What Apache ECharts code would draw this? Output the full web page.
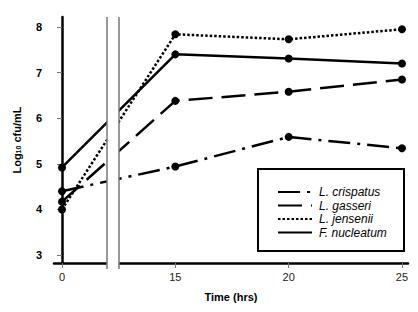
<!DOCTYPE html>
<html>
<head>
<meta charset="utf-8">
<script src="https://cdn.jsdelivr.net/npm/echarts@6/dist/echarts.min.js"></script>
<style>
  html, body { margin: 0; padding: 0; background: #fff; }
  #chart { width: 418px; height: 312px; }
</style>
</head>
<body>
<div id="chart"></div>
<script>
// time points (hrs) and log10 cfu/mL per organism
var hours = [0, 15, 20, 25];
var names = ['L. crispatus', 'L. gasseri', 'L. jensenii', 'F. nucleatum'];
var crispatus = [4.40, 4.94, 5.59, 5.34];
var gasseri = [4.17, 6.38, 6.58, 6.85];
var jensenii = [4.00, 7.84, 7.73, 7.95];
var nucleatum = [4.92, 7.40, 7.31, 7.20];
var yTicks = [3, 4, 5, 6, 7, 8];
var xTicks = [0, 15, 20, 25];

(function() {
  var font = 'Liberation Sans, Arial, sans-serif';

  // broken time axis: 0-15 h is squeezed into the width of 5 h
  function toAxis(h) { return h < 15 ? h / 3 : h - 10; }
  function fromAxis(v) { return v < 5 ? v * 3 : v + 10; }

  function pts(vals) {
    return hours.map(function(h, i) { return [toAxis(h), vals[i]]; });
  }

  var styles = [
    { data: crispatus, type: [22, 7, 3, 7] },
    { data: gasseri, type: [24, 9] },
    { data: jensenii, type: [2.5, 2] },
    { data: nucleatum, type: 'solid' }
  ];

  var chart = echarts.init(document.getElementById('chart'), null, { renderer: 'svg' });
  chart.setOption({
    animation: false,
    grid: { left: 54, right: 10, top: 17, bottom: 49 },
    xAxis: {
      type: 'value',
      min: -0.353,
      max: 15.265,
      name: 'Time (hrs)',
      nameLocation: 'middle',
      nameGap: 28,
      nameTextStyle: { color: '#000', fontFamily: font, fontSize: 11, fontWeight: 'bold' },
      axisLine: { lineStyle: { color: '#000', width: 2.5 } },
      axisTick: { show: true, length: 5, lineStyle: { color: '#777', width: 1 },
        customValues: xTicks.map(toAxis) },
      axisLabel: { color: '#222', fontFamily: font, fontSize: 11, margin: 8,
        customValues: xTicks.map(toAxis),
        formatter: function(v) { return String(Math.round(fromAxis(v))); } },
      splitLine: { show: false }
    },
    yAxis: {
      type: 'value',
      min: 2.825,
      max: 8.219,
      name: '{a|Log}{s|10}{a| cfu/mL}',
      nameLocation: 'middle',
      nameGap: 32,
      nameTextStyle: {
        rich: {
          a: { color: '#000', fontFamily: font, fontSize: 11, fontWeight: 'bold' },
          s: { color: '#000', fontFamily: font, fontSize: 7, fontWeight: 'bold', verticalAlign: 'bottom', lineHeight: 10 }
        }
      },
      axisLine: { show: true, lineStyle: { color: '#000', width: 2.5 } },
      axisTick: { show: true, length: 5, lineStyle: { color: '#777', width: 1 }, customValues: yTicks },
      axisLabel: { color: '#000', fontFamily: font, fontSize: 11, fontWeight: 'bold', margin: 12,
        customValues: yTicks },
      splitLine: { show: false }
    },
    legend: {
      orient: 'vertical',
      left: 272,
      top: 181,
      itemWidth: 34,
      itemHeight: 10,
      itemGap: 1.5,
      data: names,
      itemStyle: { color: 'transparent', borderWidth: 0 },
      textStyle: { color: '#000', fontFamily: font, fontSize: 12, fontStyle: 'italic', padding: [0, 0, 0, 2] }
    },
    series: styles.map(function(s, i) {
      return {
        name: names[i],
        type: 'line',
        data: pts(s.data),
        symbol: 'circle',
        symbolSize: 8,
        itemStyle: { color: '#000' },
        lineStyle: { color: '#000', width: 2.5, type: s.type },
        z: 2
      };
    })
  });

  // axis break band and legend frame
  var x1 = chart.convertToPixel({ xAxisIndex: 0 }, 1.985);
  var x2 = chart.convertToPixel({ xAxisIndex: 0 }, 2.514);
  chart.setOption({
    graphic: [
      { type: 'rect', z: 100, shape: { x: x1, y: 14, width: x2 - x1, height: 258 },
        style: { fill: '#fff' } },
      { type: 'line', z: 101, shape: { x1: x1, y1: 17, x2: x1, y2: 269 },
        style: { stroke: '#777', lineWidth: 1.5 } },
      { type: 'line', z: 101, shape: { x1: x2, y1: 17, x2: x2, y2: 269 },
        style: { stroke: '#777', lineWidth: 1.5 } },
      { type: 'rect', z: 100, shape: { x: 258, y: 169, width: 146, height: 82 },
        style: { fill: 'none', stroke: '#000', lineWidth: 2 } }
    ]
  });
})();
</script>
</body>
</html>
